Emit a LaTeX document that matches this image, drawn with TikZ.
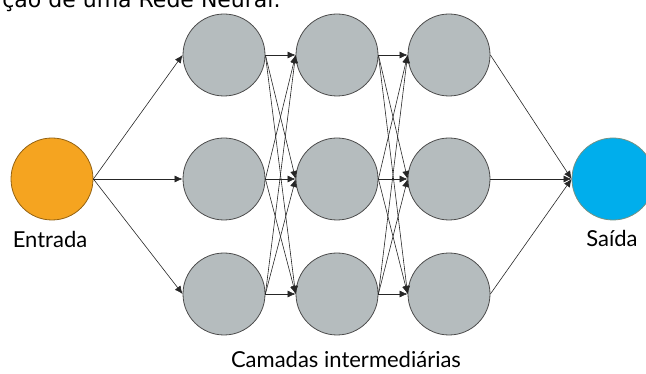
\documentclass[tikz,border=0pt]{standalone}
\usepackage{fontspec}
\setmainfont{Lato}
\newfontfamily\titlefont{DejaVu Sans}
\usepackage{tikz}
\usetikzlibrary{arrows.meta,positioning}

\definecolor{neurongray}{RGB}{181,188,190}
\definecolor{inorange}{RGB}{245,164,32}
\definecolor{outblue}{RGB}{0,174,236}

\tikzset{
  neuron/.style={circle,draw=black!70,fill=neurongray,line width=0.8pt,minimum size=82pt,inner sep=0pt},
  input/.style={neuron,fill=inorange,draw=inorange!60!black},
  output/.style={neuron,fill=outblue,draw=outblue!40!brown},
  label/.style={font=\fontsize{22}{26}\selectfont,anchor=base,inner sep=0pt}
}

\begin{document}
\begin{tikzpicture}[x=1pt,y=-1pt,->,>={Latex[length=8pt,width=7pt]},line width=0.6pt,draw=black!85]
        \clip (0,0) rectangle (646,374);
        \useasboundingbox (0,0) rectangle (646,374);
        \node[anchor=base west,inner sep=0pt,font=\titlefont\fontsize{22}{26}\selectfont] (title) at (2,8) {ção de uma Rede Neural.};

        \node[input] (in) at (52,179) {};
        \node[label] (inlbl) at (50,248) {Entrada};

        \node[neuron] (h11) at (224,55) {};
        \node[neuron] (h12) at (224,179) {};
        \node[neuron] (h13) at (224,294) {};
        \node[neuron] (h21) at (337,55) {};
        \node[neuron] (h22) at (337,179) {};
        \node[neuron] (h23) at (337,294) {};
        \node[neuron] (h31) at (449,55) {};
        \node[neuron] (h32) at (449,179) {};
        \node[neuron] (h33) at (449,294) {};
        \node[label] (hidlbl) at (346,368) {Camadas intermediárias};

        \node[output] (out) at (613,179) {};
        \node[label] (outlbl) at (612,247) {Saída};

        \path (in.east) edge (h11.west)
                        edge (h12.west)
                        edge (h13.west)
              (h11.east) edge (h21.west)
                         edge (h22.west)
                         edge (h23.west)
              (h12.east) edge (h21.west)
                         edge (h22.west)
                         edge (h23.west)
              (h13.east) edge (h21.west)
                         edge (h22.west)
                         edge (h23.west)
              (h21.east) edge (h31.west)
                         edge (h32.west)
                         edge (h33.west)
              (h22.east) edge (h31.west)
                         edge (h32.west)
                         edge (h33.west)
              (h23.east) edge (h31.west)
                         edge (h32.west)
                         edge (h33.west)
              (h31.east) edge (out.west)
              (h32.east) edge (out.west)
              (h33.east) edge (out.west);
\end{tikzpicture}
\end{document}
